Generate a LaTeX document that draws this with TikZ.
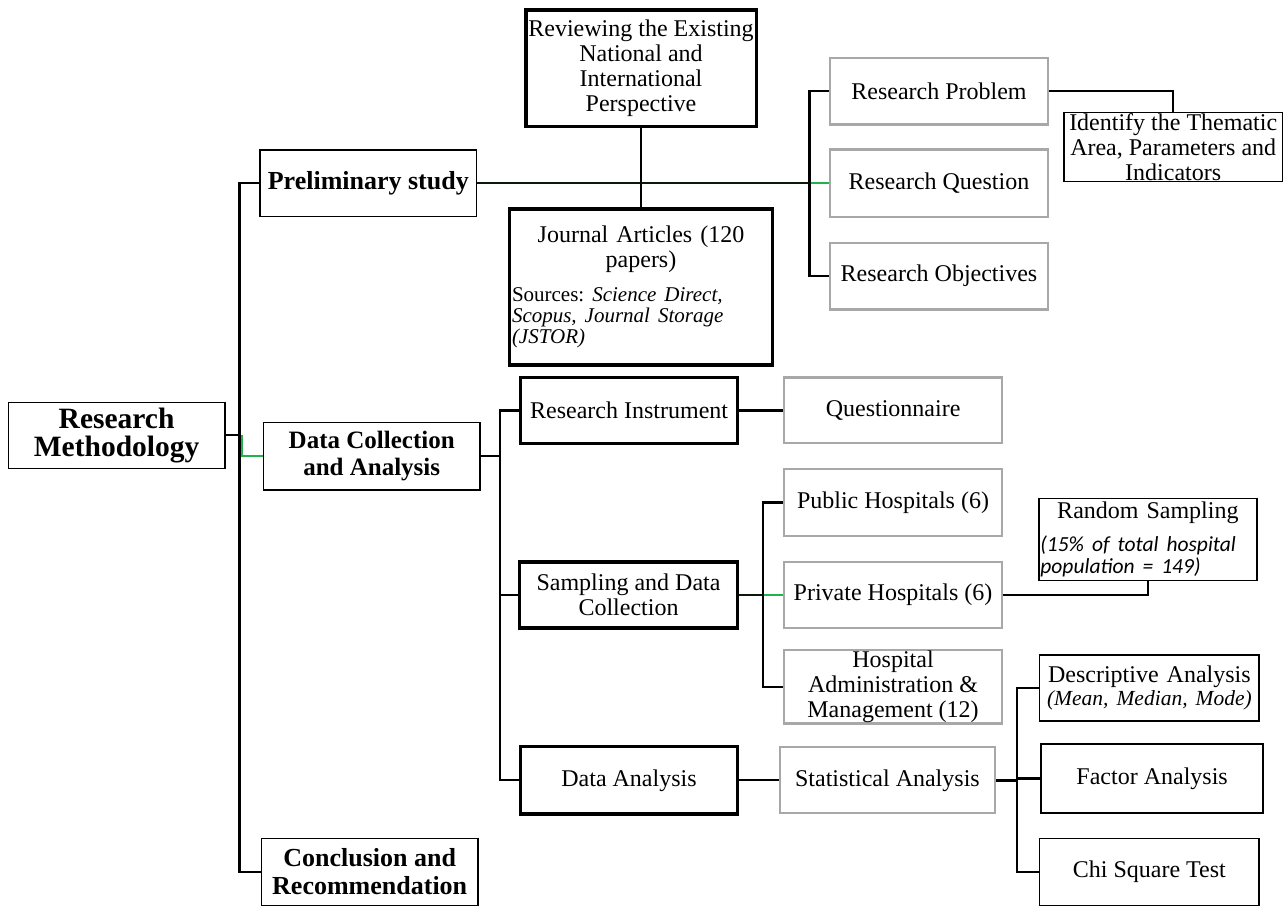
\documentclass[tikz,border=0pt]{standalone}
\usepackage{fontspec}
\setmainfont{Liberation Serif}
\newfontfamily\carlito{Carlito}
\frenchspacing
\setlength{\parskip}{0pt}
\definecolor{boxgray}{RGB}{168,168,168}
\definecolor{lgreen}{RGB}{34,177,76}
\definecolor{dgreen}{RGB}{6,26,8}
\newcommand\fsR{\fontsize{24}{25}\selectfont}
\newcommand\fsBig{\bfseries\fontsize{29.5}{28.3}\selectfont}
\newcommand\fsBold{\bfseries\fontsize{26}{28.3}\selectfont}
\newcommand\fsDca{\bfseries\fontsize{25}{26.7}\selectfont}
\newcommand\fsSrc{\fontsize{21}{21}\selectfont\raggedright}
\tikzset{
  sz/.style 2 args={minimum width=#1, minimum height=#2},
  box/.style={inner sep=1pt, anchor=center, font=\fsR},
  ml/.style={align=center},
  thinbox/.style={box, draw=black, line width=1.4pt},
  thickbox/.style={box, draw=black, line width=3.3pt},
  graybox/.style={box, draw=boxgray, line width=2.3pt},
  conn/.style={draw=black, line width=2.2pt},
  gconn/.style={draw=lgreen, line width=2.2pt},
  dconn/.style={draw=dgreen, line width=2.4pt},
}
\begin{document}
\begin{tikzpicture}[x=1pt,y=-1pt]
\useasboundingbox (0,0) rectangle (1285,905);
\fill[white] (0,0) rectangle (1285,905);
\clip (0,0) rectangle (1285,905);

% level 0 / 1
\node[thinbox, ml, sz={216.7}{66}, font=\fsBig] (rm) at (116.6,435.3) {Research\\Methodology};
\node[thinbox, sz={216.7}{66.7}, font=\fsBold] (prelim) at (368.3,183.2) {Preliminary study};
\node[thinbox, ml, sz={216.5}{67.3}, font=\fsDca] (dca) at (371.7,456.3) {Data Collection\\and Analysis};
\node[thinbox, ml, sz={216.6}{67}, font=\fsBold] (concl) at (369.7,871.8) {Conclusion and\\Recommendation};

% preliminary branch
\node[thickbox, ml, sz={230.3}{116.7}] (rev) at (641,68.3) {Reviewing the Existing\\National and\\International\\Perspective};
\node[thickbox, sz={263.3}{156}, text width=258] (jour) at (641,287)
  {{\fsR\centering Journal Articles (120\par papers)\par}\vspace{12.4pt}{\fsSrc Sources: \textit{Science Direct,}\par\textit{Scopus, Journal Storage}\par\textit{(JSTOR)}\par}};
\node[graybox, sz={218}{66.7}] (rp) at (939,91) {Research Problem};
\node[graybox, sz={218}{67.3}] (rq) at (939,183.2) {Research Question};
\node[graybox, sz={218}{66.7}] (ro) at (939,276) {Research Objectives};
\node[thinbox, ml, sz={218.3}{67.4}] (iden) at (1173.2,147) {Identify the Thematic\\Area, Parameters and\\Indicators};

% data collection branch
\node[thickbox, sz={216.8}{66}] (ri) at (629.1,410.4) {Research Instrument};
\node[graybox, sz={218.2}{65.6}] (quest) at (893.1,410.4) {Questionnaire};
\node[thickbox, ml, sz={218}{66}] (samp) at (628.5,595) {Sampling and Data\\Collection};
\node[thickbox, sz={217}{67.3}] (da) at (629,780.3) {Data Analysis};
\node[graybox, sz={218}{66.4}] (ph) at (893,502.5) {Public Hospitals (6)};
\node[graybox, sz={218}{66.6}] (privh) at (893,595) {Private Hospitals (6)};
\node[graybox, ml, sz={218}{66.7}] (ha) at (893,686.7) {Hospital\\Administration \&\\Management (12)};
\node[thinbox, sz={218.2}{82.4}, text width=215] (rand) at (1147.9,539.5)
  {{\fsR\centering Random Sampling\par}\vspace{9.8pt}{\carlito\itshape\fontsize{21.5}{22.6}\selectfont\raggedright (15\% of total hospital\par population = 149)\par}};
\node[graybox, sz={215.2}{66}] (sa) at (887.4,780.3) {Statistical Analysis};
\node[thinbox, sz={219.5}{66}, text width=216] (desc) at (1149.4,688)
  {{\fsR\centering Descriptive Analysis\par}{\fontsize{21.5}{22.7}\selectfont\itshape\centering (Mean, Median, Mode)\par}};
\node[thinbox, line width=2pt, sz={222.2}{68.4}] (factor) at (1152.1,778.5) {Factor Analysis};
\node[thinbox, sz={219.4}{67}] (chi) at (1149.3,871.8) {Chi Square Test};

% bracket x positions
\coordinate (busx) at (239.5,0);
\coordinate (gx) at (242.3,0);
\coordinate (px) at (809.5,0);
\coordinate (dx) at (500,0);
\coordinate (sx) at (763.2,0);
\coordinate (ax) at (1017,0);

% connectors: root bus
\draw[conn] (prelim.west) -- (prelim.west -| busx) -- (concl.west -| busx) -- (concl.west);
\draw[conn] (rm.east) -- (rm.east -| busx);
\draw[gconn] (rm.east -| gx) -- (dca.west -| gx) -- (dca.west);

% preliminary
\draw[dconn] (prelim.east) -- (rq.west -| px);
\draw[gconn] (rq.west -| px) -- (rq.west);
\draw[conn] (rp.west) -- (rp.west -| px) -- (ro.west -| px) -- (ro.west);
\draw[conn] (rev.south) -- (jour.north);
\draw[conn] (rp.east) -- (rp.east -| iden.north) -- (iden.north);

% data collection
\draw[conn] (dca.east) -- (dca.east -| dx);
\draw[conn] (ri.west) -- (ri.west -| dx) -- (da.west -| dx) -- (da.west);
\draw[conn] (samp.west) -- (samp.west -| dx);
\draw[conn] (ri.east) -- (quest.west);
\draw[dconn] (samp.east) -- (privh.west -| sx);
\draw[gconn] (privh.west -| sx) -- (privh.west);
\draw[conn] (ph.west) -- (ph.west -| sx) -- (ha.west -| sx) -- (ha.west);
\draw[conn] (privh.east) -- (privh.east -| rand.south) -- (rand.south);
\draw[conn] (da.east) -- (sa.west);
\draw[conn, line width=3pt] (sa.east) -- (sa.east -| ax);
\draw[conn] (desc.west) -- (desc.west -| ax) -- (chi.west -| ax) -- (chi.west);
\draw[conn] (factor.west) -- (factor.west -| ax);
\end{tikzpicture}
\end{document}
